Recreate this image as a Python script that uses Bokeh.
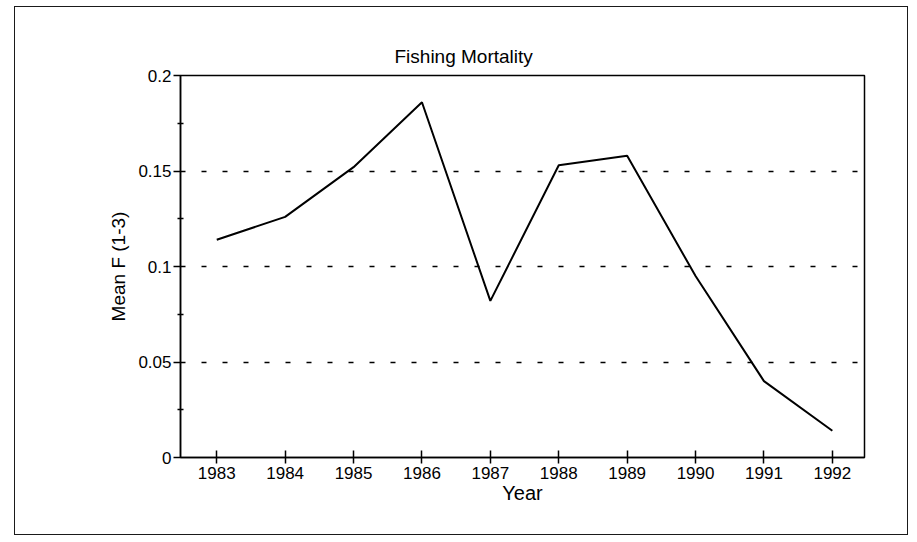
from bokeh.plotting import figure
from bokeh.models import FixedTicker, Range1d
from bokeh.embed import file_html
from bokeh.resources import INLINE

# ---- data ----
years = [1983, 1984, 1985, 1986, 1987, 1988, 1989, 1990, 1991, 1992]
mean_f = [0.114, 0.126, 0.152, 0.186, 0.082, 0.153, 0.158, 0.095, 0.040, 0.014]
y_ticks = [0, 0.05, 0.1, 0.15, 0.2]
y_tick_labels = ["0", "0.05", "0.1", "0.15", "0.2"]
y_minor = [0.025, 0.075, 0.125, 0.175]
grid_levels = [0.05, 0.1, 0.15]
title_text = "Fishing Mortality"
x_label = "Year"
y_label = "Mean F (1-3)"

FONT = "Liberation Sans"

p = figure(
    width=892, height=527,
    frame_width=684, frame_height=382,
    min_border_left=165, min_border_right=43,
    min_border_top=68, min_border_bottom=77,
    x_range=Range1d(1982.47, 1992.47), y_range=Range1d(0, 0.2),
    output_backend="svg", toolbar_location=None,
    background_fill_color="white", border_fill_color="white",
)
p.styles = {"margin-left": "15px", "margin-top": "7px",
            "outline": "1.5px solid #1a1a1a", "outline-offset": "0px"}

p.title.text = title_text
p.title.align = "left"
p.title.offset = 214
p.title.text_font = FONT
p.title.text_font_size = "19px"
p.title.text_font_style = "normal"
p.title.text_color = "black"
p.title.standoff = 18

p.line(years, mean_f, line_color="black", line_width=2)

p.outline_line_color = "black"
p.outline_line_width = 1.5
p.outline_line_alpha = 1

# x axis
xa = p.xaxis[0]
xa.ticker = FixedTicker(ticks=years)
xa.axis_label = x_label
xa.axis_label_text_font = FONT
xa.axis_label_text_font_size = "20px"
xa.axis_label_text_font_style = "normal"
xa.axis_label_standoff = 0
xa.major_label_text_font = FONT
xa.major_label_text_font_size = "17px"
xa.major_label_standoff = 3
xa.major_tick_in = 7
xa.major_tick_out = 6
xa.minor_tick_line_color = None
xa.axis_line_width = 1.5
xa.major_tick_line_width = 1.5
xa.axis_line_color = "black"
xa.major_tick_line_color = "black"
xa.major_label_text_color = "black"
xa.axis_label_text_color = "black"

# y axis
ya = p.yaxis[0]
ya.ticker = FixedTicker(ticks=y_ticks, minor_ticks=y_minor)
ya.major_label_overrides = {t: l for t, l in zip(y_ticks, y_tick_labels)}
ya.axis_label = y_label
ya.axis_label_text_font = FONT
ya.axis_label_text_font_size = "19px"
ya.axis_label_text_font_style = "normal"
ya.axis_label_standoff = 6
ya.major_label_text_font = FONT
ya.major_label_text_font_size = "17px"
ya.major_label_standoff = 2
ya.major_tick_in = 0
ya.major_tick_out = 7
ya.minor_tick_in = 3
ya.minor_tick_out = 3
ya.axis_line_width = 1.5
ya.major_tick_line_width = 1.5
ya.minor_tick_line_width = 1.5
ya.axis_line_color = "black"
ya.major_tick_line_color = "black"
ya.minor_tick_line_color = "black"
ya.major_label_text_color = "black"
ya.axis_label_text_color = "black"

# grid
p.xgrid.grid_line_color = None
p.ygrid.ticker = FixedTicker(ticks=grid_levels)
p.ygrid.grid_line_color = "black"
p.ygrid.grid_line_width = 1.5
p.ygrid.grid_line_dash = "5 16"

open("out.html", "w").write(file_html(p, INLINE))
